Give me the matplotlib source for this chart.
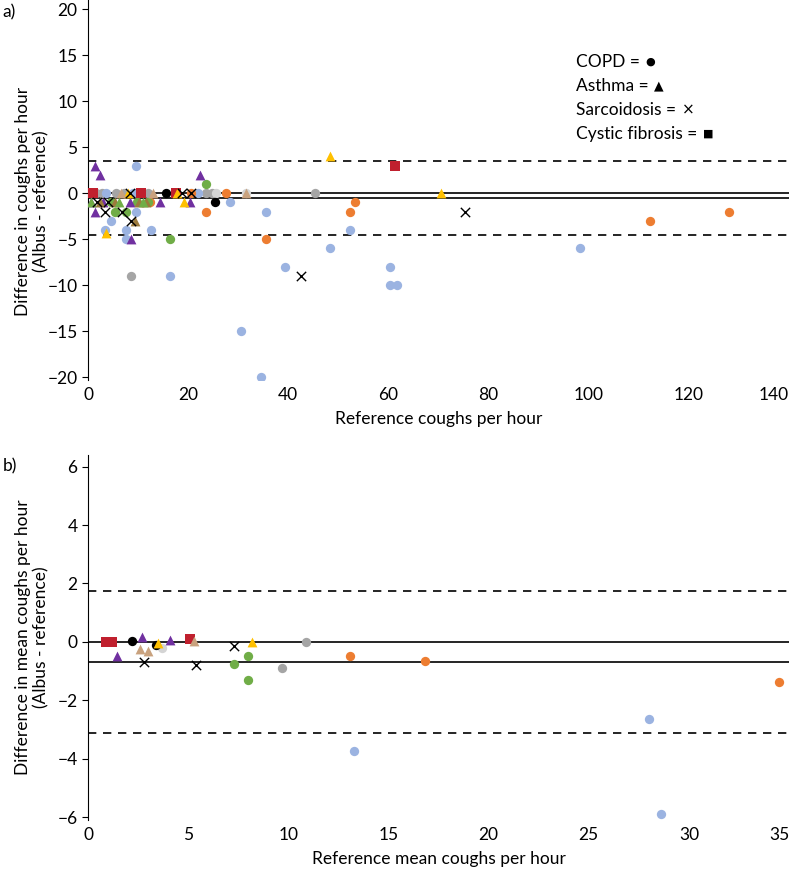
import matplotlib
matplotlib.use('Agg')
import matplotlib.pyplot as plt

plt.rcParams['font.family'] = ['Lato', 'DejaVu Sans']
plt.rcParams['font.size'] = 12.5

# colours per patient group
BLUE = '#9bb3e1'
ORANGE = '#ed7d31'
GRAY = '#a5a5a5'
LGRAY = '#d4d4d4'
GREEN = '#70ad47'
BLACK = '#000000'
PURPLE = '#7030a0'
YELLOW = '#ffc000'
TAN = '#c9a27e'
BROWN = '#9c7a3c'
RED = '#c0202e'

# ---- panel a) hourly data ----
a_blue_x = [9.6, 9.6, 4.5, 3.4, 7.6, 12.6, 7.6, 16.4, 30.5, 34.5, 39.4, 48.4, 60.4, 60.3, 61.8, 35.5, 28.4, 52.4, 98.3, 22.0, 3.5, 9.0]
a_blue_y = [3, -2, -3, -4, -4, -4, -5, -9, -15, -20, -8, -6, -8, -10, -10, -2, -1, -4, -6, 0, 0, 0]
a_orange_x = [27.5, 23.5, 35.5, 53.4, 52.4, 112.3, 128.1, 12.4, 20.6]
a_orange_y = [0, -2, -5, -1, -2, -3, -2, -1, 0]
a_gray_x = [0.3, 1.5, 2.8, 5.5, 7.2, 9.8, 12.0, 23.6, 24.7, 45.3, 8.5]
a_gray_y = [0, 0, 0, 0, 0, 0, 0, 0, 0, 0, -9]
a_lgray_x = [31.5, 25.5]
a_lgray_y = [0, 0]
a_green_x = [23.5, 16.4, 5.4, 7.6, 4.6, 9.8, 12.0]
a_green_y = [1, -5, -2, -2, -1, -1, -1]
a_black_x = [15.6, 25.4]
a_black_y = [0, -1]
a_purple_x = [1.4, 2.4, 22.4, 1.4, 8.6, 20.3, 0.5, 8.4, 14.4, 3.0]
a_purple_y = [3, 2, 2, -2, -5, -1, -1, -1, -1, -1]
a_yellow_x = [48.4, 70.4, 19.1, 3.6, 17.8, 8.0]
a_yellow_y = [4, 0, -1, -4.3, 0, 0]
a_tan_x = [31.5, 13.0, 6.5]
a_tan_y = [0, 0, 0]
a_brown_x = [9.4, 2.4, 5.4, 10.2, 11.6]
a_brown_y = [-3, -1, -1, -1, -1]
a_greentri_x = [0.5, 6.2, 11.0]
a_greentri_y = [-1, -1, -1]
a_sarc_x = [42.5, 75.3, 18.8, 20.6, 8.4, 3.4, 6.7, 8.5, 1.8, 4.0]
a_sarc_y = [-9, -2, 0, 0, 0, -2, -2, -3, -1, -1]
a_cf_x = [61.3, 0.2, 1.0, 10.5, 17.5]
a_cf_y = [3, 0, 0, 0, 0]
a_mean, a_upper, a_lower = -0.55, 3.45, -4.55

# ---- panel b) mean data ----
b_blue_x = [13.3, 28.0, 28.6]
b_blue_y = [-3.75, -2.65, -5.9]
b_orange_x = [13.1, 16.8, 34.5]
b_orange_y = [-0.5, -0.65, -1.38]
b_gray_x = [9.7, 10.9]
b_gray_y = [-0.9, 0.0]
b_lgray_x = [3.7]
b_lgray_y = [-0.2]
b_green_x = [7.3, 8.0, 8.0]
b_green_y = [-0.75, -0.5, -1.3]
b_black_x = [2.2, 3.4]
b_black_y = [0.02, -0.12]
b_purple_x = [1.45, 2.7, 4.1]
b_purple_y = [-0.5, 0.15, 0.08]
b_yellow_x = [3.5, 8.2]
b_yellow_y = [-0.05, 0.0]
b_tan_x = [2.6, 3.0, 5.3]
b_tan_y = [-0.25, -0.3, 0.02]
b_sarc_x = [2.8, 5.4, 7.3]
b_sarc_y = [-0.68, -0.78, -0.15]
b_cf_x = [0.9, 1.2, 5.1]
b_cf_y = [0, 0, 0.1]
b_mean, b_upper, b_lower = -0.70, 1.73, -3.13

legend_names = ['COPD', 'Asthma', 'Sarcoidosis', 'Cystic fibrosis']
legend_glyphs = ['\u25cf', '\u25b2', '\u00d7', '\u25a0']
legend_glyph_sizes = [8, 9, 11, 8]


def circles(ax, x, y, c):
    ax.scatter(x, y, s=45, c=c, marker='o', linewidths=0, zorder=3)


def triangles(ax, x, y, c):
    ax.scatter(x, y, s=50, c=c, marker='^', linewidths=0, zorder=3)


def style(ax):
    for s in ['top', 'right', 'bottom']:
        ax.spines[s].set_visible(False)
    ax.tick_params(axis='x', length=0, pad=5)
    ax.tick_params(axis='y', length=4, width=0.8)
    # keep the last x label inside the figure
    ax.get_xticklabels()[-1].set_horizontalalignment('right')


def ref_lines(ax, mean, upper, lower):
    for v in [0, mean]:
        ax.axhline(v, color='black', lw=1.2, zorder=2)
    for v in [upper, lower]:
        ax.axhline(v, color='black', lw=1.2, ls=(0, (5, 4)), zorder=2)


fig = plt.figure(figsize=(7.96, 8.75), dpi=100)

# panel a
ax1 = fig.add_axes([0.1106, 0.5657, 0.8807, 0.4343])
ref_lines(ax1, a_mean, a_upper, a_lower)
circles(ax1, a_gray_x, a_gray_y, GRAY)
circles(ax1, a_lgray_x, a_lgray_y, LGRAY)
circles(ax1, a_blue_x, a_blue_y, BLUE)
circles(ax1, a_orange_x, a_orange_y, ORANGE)
circles(ax1, a_green_x, a_green_y, GREEN)
circles(ax1, a_black_x, a_black_y, BLACK)
ax1.scatter(a_cf_x, a_cf_y, s=45, c=RED, marker='s', linewidths=0, zorder=3)
triangles(ax1, a_purple_x, a_purple_y, PURPLE)
triangles(ax1, a_yellow_x, a_yellow_y, YELLOW)
triangles(ax1, a_tan_x, a_tan_y, TAN)
triangles(ax1, a_brown_x, a_brown_y, BROWN)
triangles(ax1, a_greentri_x, a_greentri_y, GREEN)
ax1.scatter(a_sarc_x, a_sarc_y, s=45, c=BLACK, marker='x', linewidths=1.0, zorder=4)
ax1.set_xlim(0, 140)
ax1.set_ylim(-20.3, 21)
ax1.set_xticks(range(0, 141, 20))
ax1.set_yticks(range(-20, 21, 5))
style(ax1)
ax1.set_xlabel('Reference coughs per hour', labelpad=6)
ax1.set_ylabel('Difference in coughs per hour\n(Albus - reference)')
ax1.yaxis.set_label_coords(-0.055, 0.47)

# legend as plain text, small glyph after each name
for i, name in enumerate(legend_names):
    t = fig.text(576 / 796, 1 - (62 + 24 * i) / 875, name + ' =', va='center', ha='left')
    ax1.annotate(legend_glyphs[i], xy=(1, 0.5), xycoords=t, xytext=(4, 0),
                 textcoords='offset points', va='center', ha='left',
                 fontsize=legend_glyph_sizes[i], family='DejaVu Sans')

fig.text(0.003, 1 - 12 / 875, 'a)', va='center')

# panel b
ax2 = fig.add_axes([0.1106, 0.0629, 0.8807, 0.4171])
ref_lines(ax2, b_mean, b_upper, b_lower)
circles(ax2, b_gray_x, b_gray_y, GRAY)
circles(ax2, b_lgray_x, b_lgray_y, LGRAY)
circles(ax2, b_blue_x, b_blue_y, BLUE)
circles(ax2, b_orange_x, b_orange_y, ORANGE)
circles(ax2, b_green_x, b_green_y, GREEN)
circles(ax2, b_black_x, b_black_y, BLACK)
ax2.scatter(b_cf_x, b_cf_y, s=45, c=RED, marker='s', linewidths=0, zorder=3)
triangles(ax2, b_purple_x, b_purple_y, PURPLE)
triangles(ax2, b_yellow_x, b_yellow_y, YELLOW)
triangles(ax2, b_tan_x, b_tan_y, TAN)
ax2.scatter(b_sarc_x, b_sarc_y, s=45, c=BLACK, marker='x', linewidths=1.0, zorder=4)
ax2.set_xlim(0, 35)
ax2.set_ylim(-6.1, 6.4)
ax2.set_xticks(range(0, 36, 5))
ax2.set_yticks(range(-6, 7, 2))
style(ax2)
ax2.set_xlabel('Reference mean coughs per hour', labelpad=6)
ax2.set_ylabel('Difference in mean coughs per hour\n(Albus - reference)')
ax2.yaxis.set_label_coords(-0.055, 0.5)

fig.text(0.003, 1 - 466 / 875, 'b)', va='center')

plt.savefig('out.png', dpi=100)
